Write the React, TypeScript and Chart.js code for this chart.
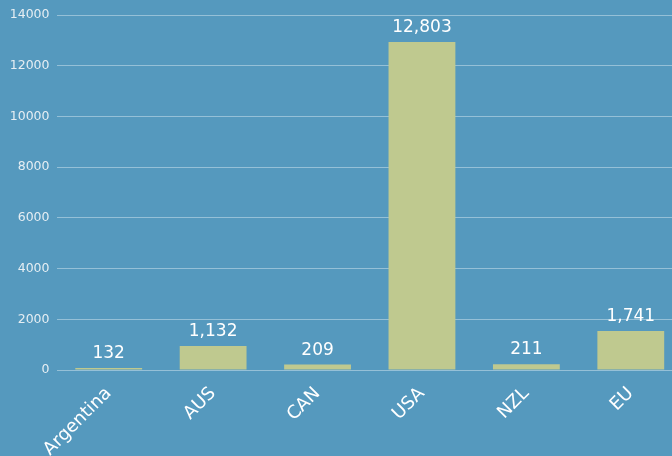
import React, { useEffect, useRef } from "react";
import { Chart, registerables } from "chart.js";

Chart.register(...registerables);

const categories = ["Argentina", "AUS", "CAN", "USA", "NZL", "EU"];
const barValues = [80, 946, 215, 12935, 225, 1538];
const labelTexts = ["132", "1,132", "209", "12,803", "211", "1,741"];
const yTicks = [0, 2000, 4000, 6000, 8000, 10000, 12000, 14000];

const FONT = "'DejaVu Sans', sans-serif";

const labelPlugin = {
  id: "barLabels",
  afterDatasetsDraw(chart: any) {
    const ctx = chart.ctx;
    const meta = chart.getDatasetMeta(0);
    ctx.save();
    ctx.fillStyle = "#ffffff";
    ctx.font = `17px ${FONT}`;
    ctx.textAlign = "center";
    ctx.textBaseline = "alphabetic";
    meta.data.forEach((bar: any, i: number) => {
      ctx.fillText(labelTexts[i], bar.x, bar.y - 10);
    });
    ctx.restore();
  },
};

export default function App() {
  const ref = useRef<HTMLCanvasElement>(null);
  useEffect(() => {
    if (!ref.current) return;
    const chart = new Chart(ref.current, {
      type: "bar",
      data: {
        labels: categories,
        datasets: [
          {
            data: barValues,
            backgroundColor: "#BFC98F",
            borderWidth: 0,
            barPercentage: 0.8,
            categoryPercentage: 0.8,
          },
        ],
      },
      options: {
        animation: false,
        responsive: false,
        layout: { padding: { top: 15, right: 1, left: 0, bottom: 0 } },
        plugins: { legend: { display: false }, tooltip: { enabled: false } },
        scales: {
          x: {
            grid: { display: false },
            border: { display: false },
            ticks: {
              color: "#ffffff",
              font: { family: FONT, size: 18 },
              maxRotation: 45,
              minRotation: 45,
              padding: 5,
            },
            afterFit(scale: any) {
              scale.height = 86;
            },
          },
          y: {
            min: 0,
            max: 14000,
            afterBuildTicks(scale: any) {
              scale.ticks = yTicks.map((v) => ({ value: v }));
            },
            grid: {
              color: "rgba(255,255,255,0.38)",
              drawTicks: false,
              lineWidth: 1,
            },
            border: { display: false },
            ticks: {
              color: "#E6EEF3",
              font: { family: FONT, size: 12.5 },
              padding: 7,
              callback: (v: any) => String(v),
            },
            afterFit(scale: any) {
              scale.width = 56.5;
            },
          },
        },
      },
      plugins: [labelPlugin],
    });
    return () => chart.destroy();
  }, []);
  return (
    <div
      style={{
        position: "fixed",
        left: 0,
        top: 0,
        width: 672,
        height: 456,
        overflow: "hidden",
        background: "#5599BE",
      }}
    >
      <canvas ref={ref} width={684} height={456} style={{ display: "block" }} />
    </div>
  );
}
